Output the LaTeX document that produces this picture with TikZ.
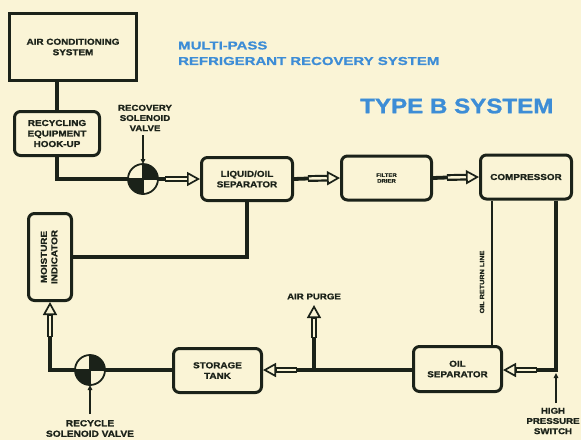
\documentclass[tikz,border=0pt]{standalone}
\usepackage{fontspec}
\newfontfamily\lbl{Liberation Sans Bold}[FakeStretch=1.15,FakeBold=1.2]
\newfontfamily\ttl{Liberation Sans Bold}[FakeStretch=1.3,FakeBold=0.8]
\usetikzlibrary{arrows.meta,calc}
\definecolor{bg}{HTML}{FAF4D6}
\definecolor{ink}{HTML}{1B2219}
\definecolor{ttlblue}{HTML}{3D8DD6}
\newcommand\harrow[2]{%
  \draw[draw=ink, line width=6.8pt, shorten >=11pt] #1 -- #2;
  \draw[draw=bg, line width=2.4pt, shorten >=11pt, shorten <=1pt] #1 -- #2;
  \draw[draw=ink, line width=1.7pt, -{Triangle[open, fill=bg, length=13pt, width=14pt]}] ($#2!13pt!#1$) -- #2;
}
\newcommand\valvesym[1]{%
  \fill[bg] (#1.center) circle[radius=15pt];
  \fill[ink] (#1.center) -- ++(15pt,0pt) arc[start angle=0,end angle=90,radius=15pt] -- cycle;
  \fill[ink] (#1.center) -- ++(-15pt,0pt) arc[start angle=180,end angle=270,radius=15pt] -- cycle;
  \draw[ink, line width=1.8pt] (#1.center) circle[radius=15pt];
  \draw[ink, line width=1.8pt] (#1.north) -- (#1.south) (#1.west) -- (#1.east);
}
\begin{document}
\begin{tikzpicture}[x=1pt,y=-1pt,
  box/.style={draw=ink, line width=3pt, rounded corners=6pt, align=center,
    font=\lbl\fontsize{8.6}{10.5}\selectfont, inner sep=0pt, text=ink},
  pipe/.style={draw=ink, line width=3.8pt},
  thinpipe/.style={draw=ink, line width=2pt},
  valve/.style={circle, minimum size=30pt, inner sep=0pt, outer sep=0pt},
  lab/.style={align=center, font=\lbl\fontsize{8.4}{10.2}\selectfont, text=ink, inner sep=0pt},
  ptr/.style={draw=ink, line width=1.6pt, -{Triangle[length=5pt,width=4.5pt]}},
  ttlstyle/.style={anchor=west, text=ttlblue, inner sep=0pt},
]
\fill[bg] (0,0) rectangle (581,440);
\useasboundingbox (0,0) rectangle (581,440);

% boxes
\node[box, rounded corners=0pt, minimum width=127pt, minimum height=67pt] (ac) at (73,47) {AIR CONDITIONING\\SYSTEM};
\node[box, minimum width=85pt, minimum height=44pt] (rec) at (57,133.5) {RECYCLING\\EQUIPMENT\\HOOK-UP};
\node[box, minimum width=91pt, minimum height=43pt] (los) at (247,179) {LIQUID/OIL\\SEPARATOR};
\node[box, minimum width=90pt, minimum height=44pt, font=\lbl\fontsize{5.2}{5.8}\selectfont] (fd) at (386.5,178) {FILTER\\DRIER};
\node[box, minimum width=91pt, minimum height=44pt] (comp) at (526,177) {COMPRESSOR};
\node[box, minimum width=88pt, minimum height=45pt] (os) at (457.5,369) {OIL\\SEPARATOR};
\node[box, minimum width=88pt, minimum height=44pt] (st) at (217.5,370.5) {STORAGE\\TANK};
\node[box, minimum width=43pt, minimum height=87pt] (mi) at (50,257) {\rotatebox{90}{\begin{tabular}{@{}c@{}}MOISTURE\\INDICATOR\end{tabular}}};

% valves
\node[valve] (v1) at (143,179) {};
\node[valve] (v2) at (90,370) {};

\coordinate (hp) at (556,370);
\coordinate (orl) at (492,280);
\coordinate (ap) at (314,370);
\coordinate (apt) at (314,305);

% pipes
\draw[pipe] (ac.south -| rec.north) -- (rec.north);
\draw[pipe] (rec.south) |- (165,179);
\harrow{(165,179)}{(los.west)}
\draw[pipe] (los.east) -- (308,178.5);
\harrow{(308,178.5)}{(fd.west)}
\draw[pipe] (fd.east) -- (447,177.5);
\harrow{(447,177.5)}{(comp.west)}
\draw[pipe] (hp |- comp.south) -- (hp) -- (537,370);
\harrow{(537,370)}{(os.east |- hp)}
\draw[thinpipe] (orl |- comp.south) -- (orl |- os.north);
\draw[pipe] (os.west |- hp) -- (297,370);
\harrow{(297,370)}{(st.east |- hp)}
\draw[pipe] (ap) -- (314,338);
\harrow{(314,338)}{(apt)}
\draw[pipe] (st.west |- v2) -- (v2.center) -- (v2.center -| mi.south) -- (50,337);
\harrow{(50,337)}{(mi.south)}
\draw[pipe] (mi.east) -| (los.south);

\valvesym{v1}
\valvesym{v2}

% pointers
\draw[ptr] (143,135) -- (v1.north);
\draw[ptr] (90,414) -- (v2.south);
\draw[ptr] (556,403) -- (556,373);

% labels
\node[lab] (lrv) at (145,118) {RECOVERY\\SOLENOID\\VALVE};
\node[lab, font=\lbl\fontsize{8.8}{10.5}\selectfont] (lrc) at (90,428.5) {RECYCLE\\SOLENOID VALVE};
\node[lab] (lhp) at (553,421) {HIGH\\PRESSURE\\SWITCH};
\node[lab] (lap) at (314,296.5) {AIR PURGE};
\node[lab, rotate=90, font=\lbl\fontsize{6.3}{7}\selectfont] (lor) at (482,282) {OIL RETURN LINE};

% titles
\node[ttlstyle, font=\ttl\fontsize{11.5}{14}\selectfont] (t1) at (178,45.5) {MULTI-PASS};
\node[ttlstyle, font=\ttl\fontsize{11.5}{14}\selectfont] (t2) at (178,61) {REFRIGERANT RECOVERY SYSTEM};
\node[ttlstyle, font=\lbl\fontsize{21}{24}\selectfont] (t3) at (360,106) {TYPE B SYSTEM};
\end{tikzpicture}
\end{document}
